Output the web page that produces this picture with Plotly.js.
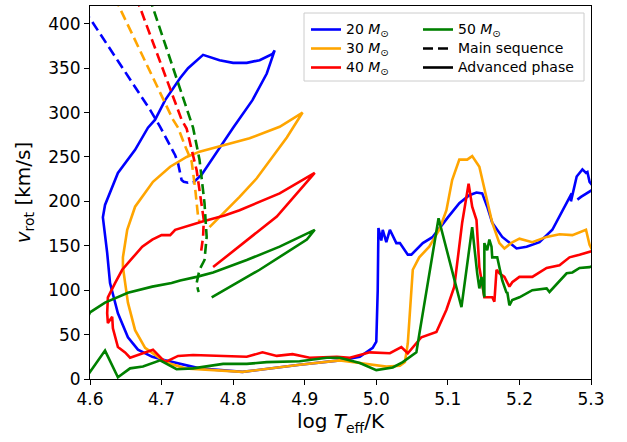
<!DOCTYPE html>
<html><head><meta charset="utf-8">
<script src="https://cdn.plot.ly/plotly-3.0.1.min.js"></script>
<style>html,body{margin:0;padding:0;background:#fff}</style>
</head><body><div id="chart" style="width:627px;height:442px"></div>
<script>
// ---- data (log Teff, v_rot) ----
const masses = ["20", "30", "40", "50"];
const colors = ["#0000ff", "#ffa500", "#ff0000", "#008000"];

const ms20_logT = [4.59, 4.600, 4.640, 4.684, 4.698, 4.719, 4.723, 4.726, 4.728, 4.731, 4.737, 4.742, 4.744];
const ms20_v    = [415, 406, 357, 303, 284, 252, 243, 230, 224, 222, 221, 222, 221];
const adv20_logT = [4.744, 4.756, 4.800, 4.827, 4.847, 4.858, 4.855, 4.837, 4.819, 4.800, 4.781, 4.758, 4.737, 4.726, 4.705, 4.691, 4.681, 4.663, 4.639, 4.621, 4.618, 4.624, 4.628, 4.639, 4.653, 4.667, 4.687, 4.705, 4.753, 4.813, 4.893, 4.949, 4.977, 4.995, 5.000, 5.002, 5.003, 5.007, 5.009, 5.014, 5.019, 5.028, 5.033, 5.044, 5.049, 5.065, 5.079, 5.088, 5.100, 5.116, 5.130, 5.140, 5.148, 5.155, 5.162, 5.176, 5.196, 5.210, 5.228, 5.246, 5.266, 5.270, 5.273, 5.272, 5.280, 5.288, 5.293, 5.295, 5.298, 5.305, 5.300, 5.286, 5.281];
const adv20_v    = [221, 230, 283, 314, 344, 370, 366, 359, 356, 356, 359, 365, 350, 339, 314, 292, 283, 258, 232, 196, 182, 142, 108, 74, 47, 33, 25, 21, 12, 8, 16, 21, 25, 35, 42, 100, 170, 156, 168, 154, 168, 153, 153, 140, 140, 153, 160, 170, 182, 198, 207, 210, 209, 194, 176, 160, 147, 149, 154, 168, 198, 204, 209, 200, 228, 236, 232, 233, 222, 215, 212, 205, 202];

const ms30_logT = [4.635, 4.642, 4.716, 4.723, 4.733, 4.742, 4.747, 4.749, 4.751, 4.753];
const ms30_v    = [430, 417, 292, 283, 262, 245, 214, 196, 183, 177];
const adv30_logT = [4.767, 4.809, 4.833, 4.855, 4.875, 4.897, 4.865, 4.823, 4.791, 4.753, 4.735, 4.712, 4.688, 4.670, 4.663, 4.652, 4.646, 4.646, 4.653, 4.663, 4.677, 4.695, 4.709, 4.733, 4.813, 4.893, 4.949, 4.977, 5.014, 5.033, 5.040, 5.044, 5.049, 5.051, 5.060, 5.074, 5.088, 5.098, 5.106, 5.116, 5.127, 5.134, 5.144, 5.154, 5.162, 5.172, 5.179, 5.190, 5.200, 5.218, 5.238, 5.256, 5.274, 5.293, 5.298, 5.305];
const adv30_v    = [171, 205, 226, 250, 272, 300, 284, 271, 264, 256, 250, 239, 222, 202, 194, 168, 137, 126, 86, 55, 35, 25, 18, 12, 8, 16, 21, 18, 14, 15, 19, 40, 100, 123, 137, 149, 168, 190, 224, 247, 247, 251, 239, 205, 176, 153, 147, 154, 158, 154, 160, 163, 162, 168, 151, 140];

const ms40_logT = [4.664, 4.670, 4.728, 4.735, 4.749, 4.756, 4.759, 4.758, 4.755];
const ms40_v    = [430, 418, 292, 282, 235, 198, 179, 160, 142];
const adv40_logT = [4.772, 4.861, 4.914, 4.865, 4.809, 4.788, 4.756, 4.719, 4.712, 4.700, 4.687, 4.673, 4.659, 4.645, 4.635, 4.625, 4.624, 4.625, 4.631, 4.632, 4.639, 4.649, 4.656, 4.688, 4.705, 4.723, 4.744, 4.781, 4.819, 4.841, 4.861, 4.883, 4.907, 4.945, 4.963, 4.991, 5.019, 5.035, 5.044, 5.063, 5.084, 5.098, 5.109, 5.120, 5.129, 5.134, 5.140, 5.144, 5.151, 5.162, 5.165, 5.168, 5.172, 5.179, 5.186, 5.190, 5.200, 5.218, 5.238, 5.256, 5.270, 5.284, 5.298, 5.305];
const adv40_v    = [126, 183, 232, 209, 190, 184, 177, 168, 162, 162, 157, 149, 136, 123, 108, 92, 74, 63, 70, 57, 36, 30, 24, 33, 19, 26, 27, 26, 25, 30, 26, 28, 24, 25, 24, 30, 29, 36, 29, 47, 53, 78, 104, 176, 220, 194, 179, 126, 92, 92, 87, 123, 119, 115, 104, 109, 115, 115, 125, 128, 137, 140, 143, 145];

const ms50_logT = [4.683, 4.688, 4.740, 4.744, 4.753, 4.760, 4.763, 4.760, 4.753, 4.749, 4.751, 4.752];
const ms50_v    = [430, 418, 292, 283, 247, 198, 160, 134, 123, 108, 100, 98];
const adv50_logT = [4.770, 4.800, 4.837, 4.903, 4.914, 4.865, 4.819, 4.772, 4.749, 4.726, 4.714, 4.687, 4.653, 4.621, 4.600, 4.580, 4.600, 4.621, 4.639, 4.656, 4.674, 4.698, 4.721, 4.744, 4.786, 4.819, 4.847, 4.893, 4.931, 4.949, 4.977, 5.000, 5.023, 5.037, 5.056, 5.060, 5.087, 5.119, 5.134, 5.141, 5.144, 5.147, 5.151, 5.151, 5.155, 5.158, 5.161, 5.162, 5.169, 5.176, 5.182, 5.183, 5.186, 5.190, 5.200, 5.218, 5.238, 5.242, 5.266, 5.274, 5.284, 5.298, 5.305];
const adv50_v    = [92, 106, 123, 157, 168, 149, 134, 120, 115, 111, 108, 104, 97, 86, 75, 40, 8, 32, 2, 12, 14, 21, 11, 12, 17, 17, 19, 20, 24, 24, 18, 10, 13, 19, 30, 50, 181, 81, 171, 119, 102, 115, 92, 153, 145, 157, 149, 137, 137, 111, 97, 98, 83, 89, 92, 100, 102, 98, 119, 120, 125, 126, 128];

const xTicks = [4.6, 4.7, 4.8, 4.9, 5.0, 5.1, 5.2, 5.3];
const yTicks = [0, 50, 100, 150, 200, 250, 300, 350, 400];
const legendMS = "Main sequence";
const legendAdv = "Advanced phase";

const msX = [ms20_logT, ms30_logT, ms40_logT, ms50_logT];
const msY = [ms20_v, ms30_v, ms40_v, ms50_v];
const advX = [adv20_logT, adv30_logT, adv40_logT, adv50_logT];
const advY = [adv20_v, adv30_v, adv40_v, adv50_v];

const LW = 2.6;
const DASH = "10px,5px";
const FONT = "DejaVu Sans";
const big = s => '<span style="font-size:14px">' + s + '</span>';
const massLabel = m => big(m + " <i>M</i><sub>⊙</sub>");
const traces = [];
for (let i = 0; i < masses.length; i++) {
  traces.push({x: msX[i], y: msY[i], mode: "lines", showlegend: false, hoverinfo: "skip",
    line: {color: colors[i], width: LW, dash: DASH}});
  traces.push({x: advX[i], y: advY[i], mode: "lines", showlegend: false, hoverinfo: "skip",
    line: {color: colors[i], width: LW}});
}
// legend entries
for (let i = 0; i < 3; i++) {
  traces.push({x: [null], y: [null], mode: "lines", name: massLabel(masses[i]),
    line: {color: colors[i], width: LW}, legend: "legend"});
}
traces.push({x: [null], y: [null], mode: "lines", name: massLabel(masses[3]),
  line: {color: colors[3], width: LW}, legend: "legend2"});
traces.push({x: [null], y: [null], mode: "lines", name: big(legendMS),
  line: {color: "#000", width: LW, dash: DASH}, legend: "legend2"});
traces.push({x: [null], y: [null], mode: "lines", name: big(legendAdv),
  line: {color: "#000", width: LW}, legend: "legend2"});

const L = 90, R = 36, T = 6, B = 63, W = 627, H = 442;
const pw = W - L - R, ph = H - T - B;
const px = p => (p - L) / pw;
const py = p => (H - B - p) / ph;

const legendCommon = {bgcolor: "rgba(0,0,0,0)", borderwidth: 0, font: {family: FONT, size: 12, color: "#000"},
  xanchor: "left", yanchor: "top", tracegroupgap: 0, itemwidth: 30};

const layout = {
  width: W, height: H,
  margin: {l: L, r: R, t: T, b: B, pad: 0},
  paper_bgcolor: "#fff", plot_bgcolor: "#fff",
  font: {family: FONT, size: 17, color: "#000"},
  xaxis: {range: [4.6, 5.3], tickvals: xTicks, ticktext: xTicks.map(v => v.toFixed(1)),
    ticks: "outside", ticklen: 5, tickwidth: 1, tickcolor: "#000",
    showline: true, linecolor: "#000", linewidth: 1, mirror: true, showgrid: false, zeroline: false,
    tickfont: {family: FONT, size: 17},
    title: {text: "log <i>T</i><sub>eff</sub>/K", font: {family: FONT, size: 20}, standoff: 2}},
  yaxis: {range: [0, 420], tickvals: yTicks,
    ticks: "outside", ticklen: 5, tickwidth: 1, tickcolor: "#000",
    showline: true, linecolor: "#000", linewidth: 1, mirror: true, showgrid: false, zeroline: false,
    tickfont: {family: FONT, size: 17},
    title: {text: "<i>v</i><sub>rot</sub> [km/s]", font: {family: FONT, size: 20}, standoff: 12}},
  legend: Object.assign({x: px(306), y: py(15)}, legendCommon),
  legend2: Object.assign({x: px(418), y: py(15)}, legendCommon),
  shapes: [{type: "rect", xref: "paper", yref: "paper", layer: "above",
    x0: px(304), x1: px(584), y0: py(81), y1: py(13),
    line: {color: "#cccccc", width: 1}, fillcolor: "rgba(255,255,255,0.8)"}]
};

Plotly.newPlot("chart", traces, layout, {displayModeBar: false, staticPlot: true});
</script></body></html>
